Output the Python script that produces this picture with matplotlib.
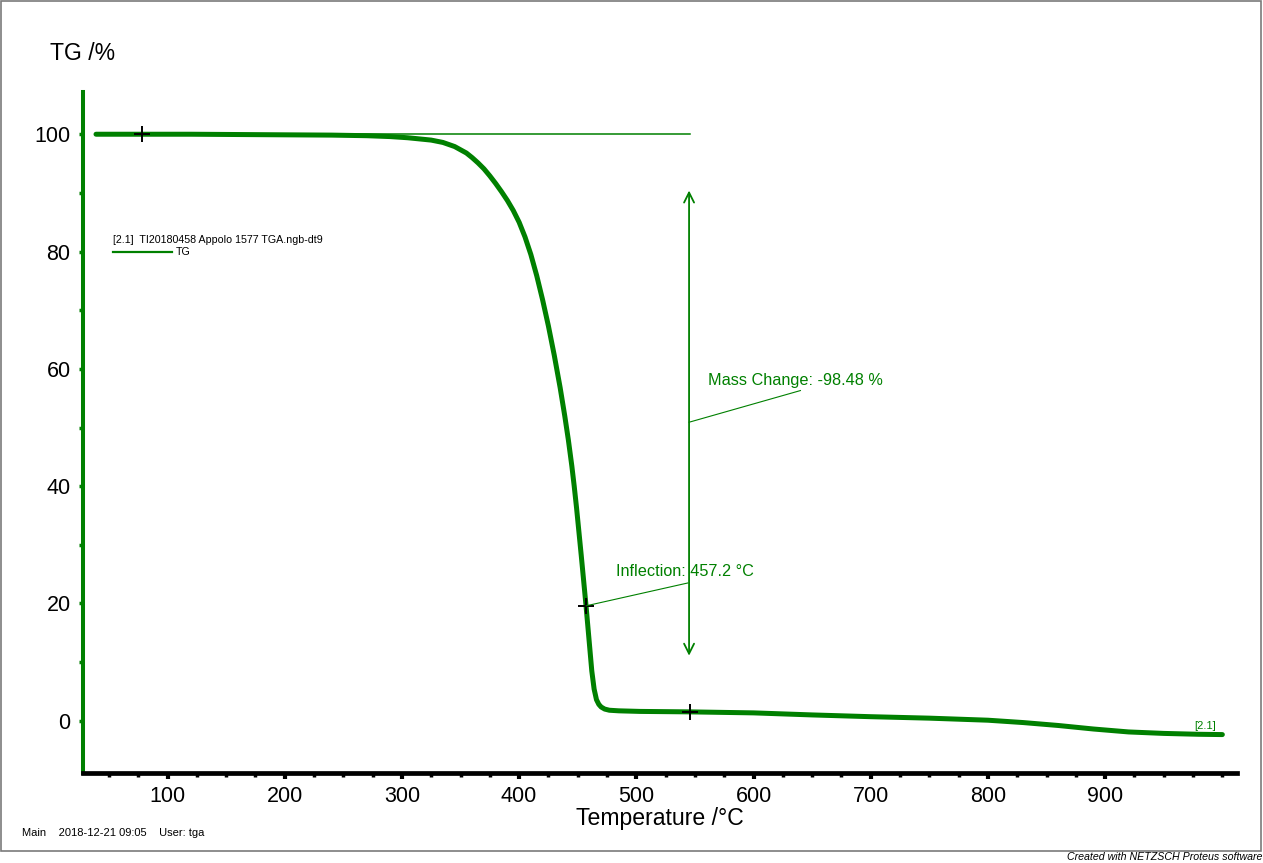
import matplotlib
matplotlib.use('Agg')
import matplotlib.pyplot as plt
from matplotlib.patches import Rectangle
from matplotlib.ticker import MultipleLocator

plt.rcParams['font.family'] = ['Liberation Sans', 'DejaVu Sans']

# TG curve
temperature = [39, 60, 80, 120, 160, 200, 240, 270, 290, 305, 315, 325, 335, 345,
               355, 360, 365, 370, 375, 380, 385, 390, 395, 400, 405, 410, 415,
               420, 425, 430, 435, 439, 442, 445, 447, 449, 453, 457, 459, 462,
               464, 466, 468, 470, 473, 477, 485, 503, 546, 600, 650, 700, 750,
               800, 830, 860, 890, 920, 950, 980, 1000]
tg = [100.0, 100.0, 100.0, 100.0, 99.95, 99.9, 99.85, 99.75, 99.6, 99.4, 99.2,
      99.0, 98.6, 97.9, 96.8, 96.0, 95.1, 94.1, 92.9, 91.6, 90.2, 88.7, 87.0,
      85.0, 82.5, 79.5, 75.9, 71.8, 67.3, 62.3, 56.8, 51.9, 47.9, 43.4, 40.0,
      36.3, 28.2, 19.8, 15.3, 8.5, 5.4, 3.6, 2.8, 2.35, 2.0, 1.8, 1.7, 1.6,
      1.52, 1.35, 1.0, 0.7, 0.45, 0.1, -0.3, -0.8, -1.4, -1.9, -2.15, -2.3,
      -2.35]

marker_t = [78.6, 457.2, 546.0]
marker_tg = [100.0, 19.6, 1.52]

xticks = [100, 200, 300, 400, 500, 600, 700, 800, 900]
yticks = [0, 20, 40, 60, 80, 100]

GREEN = '#008000'

fig = plt.figure(figsize=(12.63, 8.63), dpi=100)
W, H = 1263, 863
ax = fig.add_axes([83 / W, 1 - 773 / H, (1237 - 83) / W, (773 - 92) / H])
ax.set_xlim(27.9, 1012.5)
ax.set_ylim(-8.9, 107.2)

for s in ('top', 'right'):
    ax.spines[s].set_visible(False)
ax.spines['left'].set_color(GREEN)
ax.spines['left'].set_linewidth(2.9)
ax.spines['bottom'].set_color('black')
ax.spines['bottom'].set_linewidth(3.4)

ax.set_xticks(xticks)
ax.set_yticks(yticks)
ax.xaxis.set_minor_locator(MultipleLocator(25))
ax.yaxis.set_minor_locator(MultipleLocator(10))
ax.tick_params(axis='x', which='major', direction='out', length=4, width=3,
               color='black', labelsize=15.5, pad=5)
ax.tick_params(axis='x', which='minor', direction='out', length=3, width=2.5,
               color='black')
ax.tick_params(axis='y', which='major', direction='out', length=3, width=2.5,
               color=GREEN, labelsize=15.5, pad=6)
ax.tick_params(axis='y', which='minor', direction='out', length=3, width=2.5,
               color=GREEN)

# baseline, curve and markers
ax.plot([marker_t[0], marker_t[2]], [100, 100], color=GREEN, lw=1.1)
ax.plot(temperature, tg, color=GREEN, lw=3.6, solid_capstyle='round',
        solid_joinstyle='round')
ax.plot(marker_t, marker_tg, ls='none', marker='+', color='black', ms=11, mew=1.4)

# mass change arrow
ax.annotate('', xy=(545, 11.1), xytext=(545, 90.4),
            arrowprops=dict(arrowstyle='<->', color=GREEN, lw=1.3,
                            mutation_scale=18, shrinkA=0, shrinkB=0))
ax.plot([545, 640], [50.9, 56.3], color=GREEN, lw=0.8)
ax.text(561, 58.0, 'Mass Change: -98.48 %', color=GREEN, fontsize=11.7,
        va='center', ha='left')

# inflection
ax.plot([457.2, 544], [19.6, 23.5], color=GREEN, lw=0.8)
ax.text(482.7, 25.4, 'Inflection: 457.2 °C', color=GREEN, fontsize=11.7,
        va='center', ha='left')

# legend block
ax.text(53.5, 82.0, '[2.1]  TI20180458 Appolo 1577 TGA.ngb-dt9', fontsize=7.7,
        va='center', ha='left')
ax.plot([53.5, 103.9], [80.0, 80.0], color=GREEN, lw=1.6)
ax.text(107.3, 80.0, 'TG', fontsize=7.7, va='center', ha='left')

ax.text(975.8, -0.9, '[2.1]', color=GREEN, fontsize=8, va='center', ha='left')

# axis titles
fig.text(50 / W, 1 - 53 / H, 'TG /%', fontsize=16.6, va='center', ha='left')
fig.text(660 / W, 1 - 818 / H, 'Temperature /°C', fontsize=16.6,
         va='center', ha='center')

# footer
fig.text(22 / W, 1 - 833 / H, 'Main    2018-12-21 09:05    User: tga',
         fontsize=8, va='center', ha='left')
fig.text(1262 / W, 1 - 857 / H, 'Created with NETZSCH Proteus software',
         fontsize=7.7, style='italic', va='center', ha='right')

# page frame
fig.patches.append(Rectangle((1 / W, 1 - 851 / H), 1260 / W, 850 / H,
                             transform=fig.transFigure, fill=False,
                             edgecolor='#7a7a7a', lw=1.2))

fig.savefig('out.png', dpi=100)
